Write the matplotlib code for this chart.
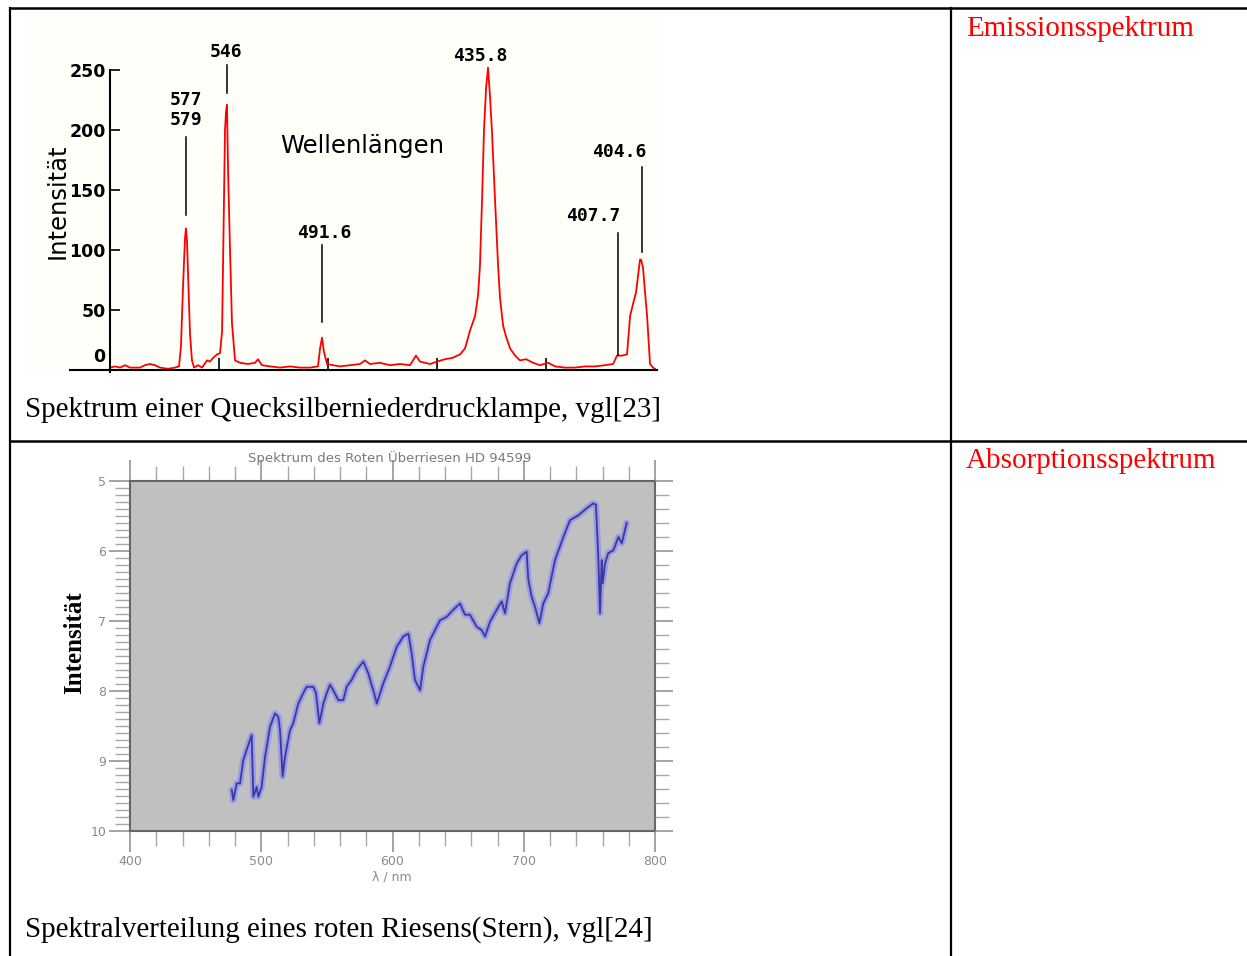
import matplotlib

matplotlib.use("Agg")

import matplotlib.pyplot as plt
from matplotlib.patches import Rectangle
from matplotlib.ticker import MultipleLocator, FixedLocator, NullFormatter

# Hg-Lampe: Kanal (Prismenspektrometer, nicht linear in nm) und Intensitaet
hg_channel = [
    0, 4.6, 9.2, 13.8, 18.3, 27.5, 32, 36.7, 41.3, 45.9, 53.2, 59.6, 63.3,
    65.1, 67, 68.8, 69.7, 70.6, 71.6, 73.4, 75.2, 77.1, 80.7, 84.4, 89, 91.7,
    94.5, 98.2, 100.9, 102.8, 103.7, 105.5, 106.4, 107.3, 108.3, 110.1, 111.9,
    114.7, 119.3, 126.6, 133, 135.8, 139.4, 146.8, 156, 165.1, 174.3, 183.5,
    190.8, 192.7, 194.5, 196.3, 199.1, 204.6, 211, 220.2, 229.4, 233.9, 238.5,
    247.7, 256.9, 266.1, 275.2, 280.7, 284.4, 289, 293.6, 300, 307.3, 313.8,
    321.1, 325.7, 330.3, 334.9, 337.6, 339.4, 341.3, 343.1, 345, 346.8, 347.7,
    348.6, 350.5, 353.2, 356, 357.8, 360.6, 363.3, 367, 371.6, 376.1, 381.7,
    388.1, 394.5, 401.8, 408.3, 417.4, 426.6, 435.8, 445, 454.1, 461.5, 465.1,
    469.7, 474.3, 477.1, 479.8, 482.6, 486.2, 487.2, 489, 490.8, 492.7, 495.4,
    498.2, 500,
]
hg_intensity = [
    2, 3, 2, 4, 2, 2, 4, 5, 4, 2, 1, 2, 3,
    20, 70, 110, 118, 108, 80, 30, 8, 2, 4, 2, 8, 7,
    10, 13, 14, 32, 88, 200, 215, 221, 167, 100, 39,
    8, 6, 5, 6, 9, 4, 3, 2, 3, 2, 2,
    3, 18, 27, 15, 5, 4, 3, 4, 5, 8, 5,
    6, 4, 5, 4, 12, 7, 6, 5, 7, 9, 10,
    13, 18, 33, 45, 62, 87, 142, 200, 235, 252, 240,
    228, 197, 142, 87, 60, 37, 28, 18, 12, 8, 9,
    6, 4, 6, 3, 2, 2, 3, 3, 4, 5, 12,
    12, 13, 45, 55, 65, 92, 92, 85, 65, 45, 5,
    2, 1,
]
hg_yticks = [50, 100, 150, 200, 250]

# Beschriftung der Linien: Text, Kanal der Linie, Strich von/bis
line_labels = ["577\n579", "546", "491.6", "435.8", "407.7", "404.6"]
line_channel = [69.7, 107.3, 194.5, 347, 466, 488]
line_from = [129, 231, 40, None, 12.5, 98]
line_to = [194, 254, 104, None, 114, 169]

# Roter Ueberriese HD 94599
star_wavelength = [
    477.5, 478.7, 481.3, 483.8, 486.3, 488.9, 492.7, 494, 496.5, 497.8, 500.3,
    502.9, 506.7, 510.5, 513, 514.3, 516.3, 518.1, 521.9, 524.4, 528.2, 532,
    534.6, 539.7, 541.7, 544.3, 547.3, 549.9, 552.4, 554.9, 558.7, 562.5,
    565.1, 568.9, 572.7, 577.8, 581.6, 586.7, 588, 593, 598.1, 603.2, 608.3,
    612.1, 614.6, 617.1, 621, 623.5, 628.6, 632.4, 636.2, 641.3, 646.3, 651.4,
    655.2, 659, 664.1, 667.9, 670.5, 674.3, 679.4, 683.2, 685.7, 689.5, 694.6,
    698.4, 702.2, 703.5, 706, 708.6, 711.9, 714.9, 718.7, 723.8, 730.2, 735.2,
    741.6, 747.9, 753, 755, 756.8, 758.1, 759.4, 760.1, 761.9, 764.4, 768.3,
    772.1, 774.7, 778.4,
]
star_value = [
    9.41, 9.56, 9.32, 9.32, 8.99, 8.84, 8.63, 9.51, 9.37, 9.51, 9.37,
    8.94, 8.51, 8.32, 8.37, 8.56, 9.22, 8.94, 8.56, 8.46, 8.18, 8.03,
    7.94, 7.94, 8.03, 8.46, 8.18, 8.03, 7.91, 7.99, 8.13, 8.13,
    7.94, 7.84, 7.70, 7.58, 7.75, 8.08, 8.18, 7.89, 7.65, 7.37, 7.22,
    7.18, 7.46, 7.84, 7.99, 7.65, 7.27, 7.13, 6.99, 6.94, 6.84, 6.75,
    6.91, 6.91, 7.08, 7.13, 7.22, 7.01, 6.84, 6.72, 6.89, 6.46, 6.18,
    6.06, 6.01, 6.41, 6.65, 6.80, 7.03, 6.75, 6.60, 6.13, 5.80, 5.56,
    5.49, 5.39, 5.32, 5.34, 6.08, 6.89, 6.13, 6.46, 6.18, 6.03, 5.99,
    5.80, 5.89, 5.60,
]
star_xticks = [400, 500, 600, 700, 800]
star_yticks = [5, 6, 7, 8, 9, 10]

W, H = 1247, 956
fig = plt.figure(figsize=(W / 100, H / 100), dpi=100)

# Tabelle (Rahmen, Texte)
frame = fig.add_axes([0, 0, 1, 1])
frame.set_xlim(0, W)
frame.set_ylim(H, 0)
frame.axis("off")
frame.add_patch(Rectangle((28, 10), 630, 364, facecolor="#fffffa", edgecolor="none"))
frame.plot([10, W], [8, 8], color="black", lw=1.8)
frame.plot([10, 10], [8, H], color="black", lw=1.6)
frame.plot([951, 951], [8, H], color="black", lw=1.6)
frame.plot([10, W], [440.5, 440.5], color="black", lw=1.8)

serif = "Liberation Serif"
frame.text(25, 417, "Spektrum einer Quecksilberniederdrucklampe, vgl[23]",
           fontsize=21, family=serif, va="baseline")
frame.text(25, 937, "Spektralverteilung eines roten Riesens(Stern), vgl[24]",
           fontsize=21, family=serif, va="baseline")
frame.text(966, 36, "Emissionsspektrum", fontsize=21, family=serif,
           color="#ff0000", va="baseline")
frame.text(966, 468, "Absorptionsspektrum", fontsize=21, family=serif,
           color="#ff0000", va="baseline")

# --- Emissionsspektrum ---
ax = fig.add_axes([70 / W, 1 - 370 / H, 587 / W, 306 / H])
ax.patch.set_alpha(0)
ax.plot(hg_channel, hg_intensity, color="#ff0000", lw=1.3)
ax.set_xlim(-36.7, 501.8)
ax.set_ylim(0, 255)
for side in ["top", "right"]:
    ax.spines[side].set_visible(False)
ax.spines["left"].set_position(("data", 0))
ax.spines["left"].set_bounds(-2, 250)
ax.spines["left"].set_linewidth(1.5)
ax.spines["bottom"].set_linewidth(1.5)
ax.set_xticks([100, 200, 300, 400])
ax.set_xticklabels([])
ax.set_yticks(hg_yticks)
ax.set_yticklabels([str(v) for v in hg_yticks], fontsize=12.5, fontweight="bold")
ax.tick_params(axis="x", direction="in", length=8.5, width=1.2)
ax.tick_params(axis="y", direction="in", length=7, width=1.2, pad=3)
ax.text(-4, 10.5, "0", ha="right", va="center", fontsize=12.5, fontweight="bold")
ax.text(-48, 141, "Intensität", rotation=90, ha="center", va="center",
        fontsize=17.5, clip_on=False)
ax.text(231, 187, "Wellenlängen", ha="center", va="center", fontsize=17.5)

label_y = [217, 265, 114, 261.7, 128, 181.7]
label_x = [69.7, 106.4, 197, 339.4, 443, 467]
for i, txt in enumerate(line_labels):
    ax.text(label_x[i], label_y[i], txt, ha="center", va="center",
            family="DejaVu Sans Mono", fontweight="bold", fontsize=13,
            linespacing=1.15, clip_on=False)
    if line_from[i] is not None:
        ax.plot([line_channel[i], line_channel[i]], [line_from[i], line_to[i]],
                color="black", lw=1.1, clip_on=False)

# --- Absorptionsspektrum ---
ax2 = fig.add_axes([130 / W, 1 - 831 / H, 525 / W, 350 / H])
ax2.set_facecolor("#c0c0c0")
ax2.plot(star_wavelength, star_value, color="#9a9ae6", lw=4.5,
         solid_capstyle="round", solid_joinstyle="round")
ax2.plot(star_wavelength, star_value, color="#3a3a9a", lw=1.3)
ax2.set_xlim(400, 800)
ax2.set_ylim(10, 5)
for s in ax2.spines.values():
    s.set_color("#666666")
    s.set_linewidth(1.5)
ax2.set_xticks(star_xticks)
ax2.xaxis.set_minor_locator(MultipleLocator(20))
ax2.set_yticks(star_yticks)
ax2.yaxis.set_minor_locator(MultipleLocator(0.1))
ax2.tick_params(axis="both", which="major", direction="out", length=15,
                width=1.1, color="#8c8c8c", labelsize=9, labelcolor="#8a8a8a",
                top=True, pad=2)
ax2.tick_params(axis="both", which="minor", direction="out", length=11,
                width=1.0, color="#a8a8a8", top=True)
ax2.tick_params(axis="x", labeltop=False)

ax3 = ax2.twinx()
ax3.set_ylim(10, 5)
ax3.yaxis.set_major_locator(FixedLocator(star_yticks))
ax3.yaxis.set_minor_locator(MultipleLocator(0.2))
ax3.yaxis.set_major_formatter(NullFormatter())
ax3.tick_params(which="major", direction="out", length=13, width=1.1, color="#8c8c8c")
ax3.tick_params(which="minor", direction="out", length=10, width=1.0, color="#a8a8a8")
for s in ax3.spines.values():
    s.set_visible(False)

fig.text(390 / W, 1 - 458 / H, "Spektrum des Roten Überriesen HD 94599",
         ha="center", va="center", fontsize=9.5, color="#7a7a7a")
fig.text(392 / W, 1 - 877 / H, "λ / nm", ha="center", va="center",
         fontsize=9, color="#8a8a8a")
fig.text(75 / W, 1 - 643 / H, "Intensität", rotation=90, ha="center",
         va="center", fontsize=18, family=serif, fontweight="bold")

plt.savefig("out.png", dpi=100)
plt.close()
